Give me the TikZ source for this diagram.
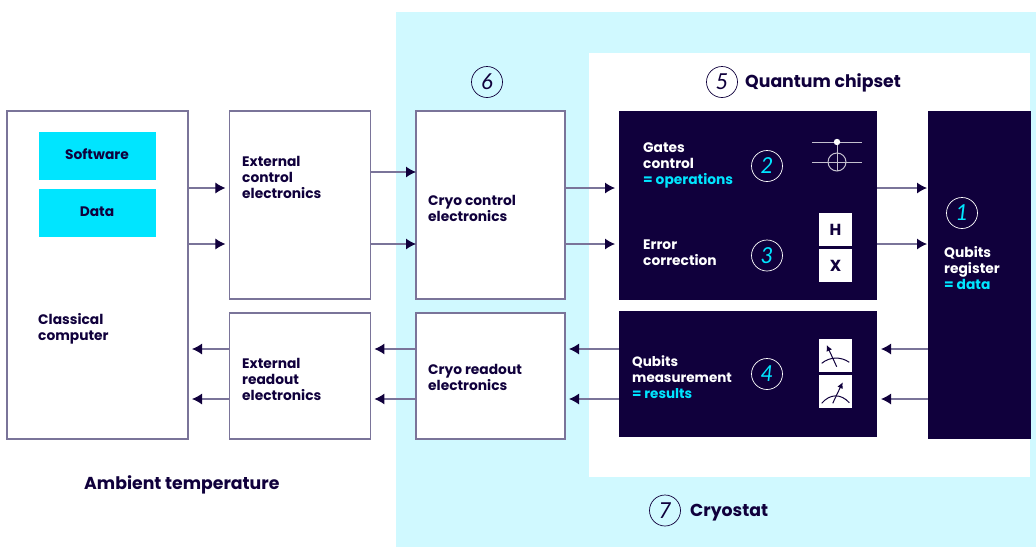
\documentclass[tikz,border=0pt]{standalone}
\usepackage{fontspec}
\setmainfont{Poppins}
\newfontfamily\numfont{Lato}
\usetikzlibrary{arrows.meta}
\definecolor{navy}{HTML}{10003C}
\definecolor{cyanbox}{HTML}{00E5FF}
\definecolor{pale}{HTML}{D0F9FF}
\definecolor{edgegray}{HTML}{7A7499}
\tikzset{
  x=1pt,y=-1pt,
  box/.style={draw=edgegray,line width=1.1pt,fill=white,anchor=north west,inner sep=0pt,outer sep=0pt},
  panel/.style={fill=navy,anchor=north west,inner sep=0pt,outer sep=0pt},
  cyanfill/.style={fill=cyanbox,anchor=north west,inner sep=0pt,outer sep=0pt},
  whitefill/.style={fill=white,anchor=north west,inner sep=0pt,outer sep=0pt},
  lab/.style={font=\fontsize{13.8}{16}\selectfont\bfseries,text=navy,align=left,anchor=west,inner sep=0pt},
  labw/.style={lab,text=white},
  title/.style={font=\fontsize{17.3}{20}\selectfont\bfseries,text=navy,anchor=west,inner sep=0pt},
  numc/.style={circle,draw=navy,line width=0.7pt,minimum size=31pt,inner sep=0pt,font=\numfont\itshape\fontsize{22}{22}\selectfont,text=navy},
  numw/.style={numc,draw=white,text=cyanbox},
  arr/.style={draw=edgegray,line width=1.1pt,-{Latex[length=10pt,width=11pt,color=navy]}},
  icon/.style={navy,line width=1pt},
  wire/.style={draw=white!75!navy,line width=1pt},
}
\begin{document}
\begin{tikzpicture}
\useasboundingbox (0,0) rectangle (1036,547);
\fill[white] (0,0) rectangle (1036,547);
\fill[pale] (396,12) rectangle (1036,547);
\fill[white] (589,53) rectangle (1030,477);

% boxes
\node[box,minimum width=181pt,minimum height=328pt] (cc) at (7,111) {};
\node[cyanfill,minimum width=117pt,minimum height=48pt] (sw) at (39,132) {};
\node[cyanfill,minimum width=117pt,minimum height=48pt] (da) at (39,189) {};
\node[box,minimum width=141pt,minimum height=188pt] (ec) at (229.4,111) {};
\node[box,minimum width=141pt,minimum height=126pt] (er) at (229.4,313) {};
\node[box,minimum width=149pt,minimum height=188pt] (cr) at (416,111) {};
\node[box,minimum width=149pt,minimum height=126pt] (rr) at (416,313) {};
\node[panel,minimum width=258pt,minimum height=189pt] (gp) at (619,111) {};
\node[panel,minimum width=258pt,minimum height=126pt] (mp) at (619,311) {};
\node[panel,minimum width=103pt,minimum height=328pt] (qb) at (928,111) {};

% connector levels
\coordinate (a1) at (0,188);
\coordinate (a2) at (0,244);
\coordinate (a3) at (0,172);
\coordinate (b1) at (0,349);
\coordinate (b2) at (0,399);

\draw[arr,shorten >=4pt] (cc.east |- a1) -- (ec.west |- a1);
\draw[arr,shorten >=4pt] (cc.east |- a2) -- (ec.west |- a2);
\draw[arr] (ec.east |- a3) -- (cr.west |- a3);
\draw[arr] (ec.east |- a2) -- (cr.west |- a2);
\draw[arr,shorten >=4pt] (cr.east |- a1) -- (gp.west |- a1);
\draw[arr,shorten >=4pt] (cr.east |- a2) -- (gp.west |- a2);
\draw[arr,shorten >=1pt] (gp.east |- a1) -- (qb.west |- a1);
\draw[arr,shorten >=1pt] (gp.east |- a2) -- (qb.west |- a2);
\draw[arr,shorten >=4pt] (qb.west |- b1) -- (mp.east |- b1);
\draw[arr,shorten >=4pt] (qb.west |- b2) -- (mp.east |- b2);
\draw[arr,shorten >=4pt] (mp.west |- b1) -- (rr.east |- b1);
\draw[arr,shorten >=4pt] (mp.west |- b2) -- (rr.east |- b2);
\draw[arr,shorten >=4pt] (rr.west |- b1) -- (er.east |- b1);
\draw[arr,shorten >=4pt] (rr.west |- b2) -- (er.east |- b2);
\draw[arr,shorten >=4pt] (er.west |- b1) -- (cc.east |- b1);
\draw[arr,shorten >=4pt] (er.west |- b2) -- (cc.east |- b2);

% labels
\node[lab,anchor=center] (tsw) at (97,154.5) {Software};
\node[lab,anchor=center] (tda) at (97,211.5) {Data};
\node[lab] (tcc) at (38,329) {Classical\\computer};
\node[lab] (tec) at (242,177) {External\\control\\electronics};
\node[lab] (ter) at (242,379) {External\\readout\\electronics};
\node[lab] (tcr) at (428,208) {Cryo control\\electronics};
\node[lab] (trr) at (428,377) {Cryo readout\\electronics};
\node[labw] (tgc) at (643,165.5) {Gates\\control\\\textcolor{cyanbox}{= operations}};
\node[labw] (tec2) at (643,253) {Error\\correction};
\node[labw,font=\fontsize{13.5}{16}\selectfont\bfseries] (tqm) at (632,377) {Qubits\\measurement\\\textcolor{cyanbox}{= results}};
\node[labw] (tqr) at (944,268.5) {Qubits\\register\\\textcolor{cyanbox}{= data}};
\node[title] (tat) at (84,484.5) {Ambient temperature};
\node[title] (tqc) at (745,83) {Quantum chipset};
\node[title] (tcy) at (690,512.5) {Cryostat};

% numbered circles
\node[numc] (n6) at (487,82) {6};
\node[numc] (n5) at (722,82) {5};
\node[numc] (n7) at (665,510.5) {7};
\node[numw] (n2) at (767,166) {2};
\node[numw] (n3) at (767,255.5) {3};
\node[numw] (n4) at (767,374) {4};
\node[numw] (n1) at (962,213) {1};

% CNOT icon
\draw[wire] (812,142) -- (862,142);
\draw[wire] (812,162) -- (862,162);
\draw[wire] (837,142) -- (837,171);
\draw[wire] (837,162) circle[radius=9];
\fill[white] (837,142) circle[radius=3.2];

% H and X
\node[whitefill,minimum width=33pt,minimum height=33pt] (hb) at (819,213) {};
\node[whitefill,minimum width=33pt,minimum height=33pt] (xb) at (819,249) {};
\node[lab,anchor=center,font=\fontsize{16}{16}\selectfont\bfseries] at (hb.center) {H};
\node[lab,anchor=center,font=\fontsize{16}{16}\selectfont\bfseries] at (xb.center) {X};

% meters
\node[whitefill,minimum width=33pt,minimum height=33pt] (m1) at (819,339) {};
\node[whitefill,minimum width=33pt,minimum height=33pt] (m2) at (819,375) {};
\draw[icon] (821.7,363.3) .. controls (830,356.5) and (841,356.5) .. (849.3,362.3);
\draw[icon,-{Latex[length=6pt,width=6pt]}] (836.7,366.7) -- (826.7,345);
\draw[icon] (821.7,403.3) .. controls (830,393.5) and (841,393.5) .. (849.3,402.7);
\draw[icon,-{Latex[length=6pt,width=6pt]}] (832.7,403.3) -- (842.7,382.3);
\end{tikzpicture}
\end{document}
